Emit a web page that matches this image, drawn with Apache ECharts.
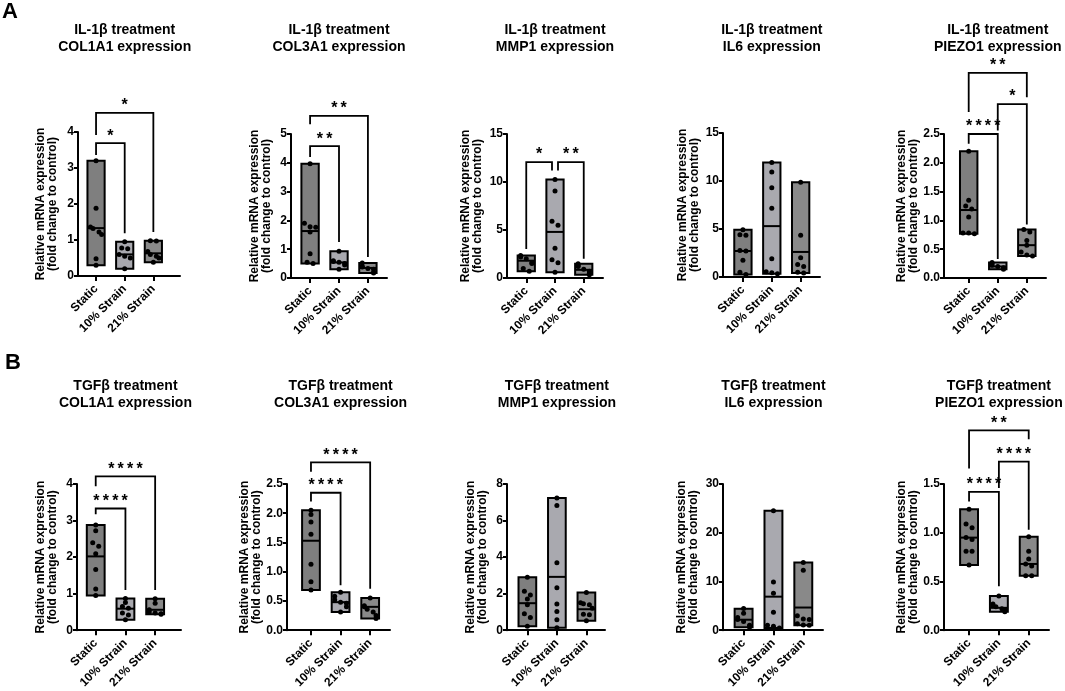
<!DOCTYPE html>
<html>
<head>
<meta charset="utf-8">
<script src="https://cdn.jsdelivr.net/npm/echarts@6/dist/echarts.min.js"></script>
<style>
  html, body { margin: 0; padding: 0; background: #fff; }
  #chart { width: 1065px; height: 691px; }
</style>
</head>
<body>
<div id="chart"></div>
<script>
const FONT = '"Liberation Sans", Arial, sans-serif';

// ---- data ----
const categories = ['Static', '10% Strain', '21% Strain'];
const treatments = ['IL-1β treatment', 'TGFβ treatment'];
const genes = ['COL1A1', 'COL3A1', 'MMP1', 'IL6', 'PIEZO1'];
const yMax = [4, 5, 15, 15, 2.5, 4, 2.5, 8, 30, 1.5];
const yStep = [1, 1, 5, 5, 0.5, 1, 0.5, 2, 10, 0.5];

// floating bars: min, max and median per group
const barMin = [
  [0.30, 0.20, 0.38], [0.50, 0.30, 0.17], [0.70, 0.60, 0.35], [0.25, 0.35, 0.42], [0.77, 0.15, 0.38],
  [0.95, 0.29, 0.44], [0.69, 0.31, 0.20], [0.22, 0.13, 0.52], [0.60, 0.47, 1.00], [0.67, 0.19, 0.56]
];
const barMax = [
  [3.20, 0.95, 0.98], [3.97, 0.93, 0.52], [2.35, 10.25, 1.48], [4.92, 11.92, 9.88], [2.20, 0.27, 0.84],
  [2.88, 0.87, 0.86], [2.05, 0.65, 0.55], [2.90, 7.24, 2.07], [4.40, 24.5, 13.9], [1.24, 0.35, 0.96]
];
const barMedian = [
  [1.33, 0.60, 0.63], [1.63, 0.54, 0.35], [1.80, 4.80, 0.85], [2.71, 5.30, 2.61], [1.18, 0.20, 0.57],
  [2.02, 0.59, 0.56], [1.53, 0.48, 0.40], [1.48, 2.92, 1.15], [2.16, 6.89, 4.66], [0.95, 0.23, 0.68]
];

// individual replicates
const dots = [
  [[3.2, 1.88, 1.36, 1.32, 1.22, 1.15, 0.48, 0.3], [0.95, 0.78, 0.76, 0.6, 0.55, 0.5, 0.2], [0.98, 0.97, 0.68, 0.6, 0.55, 0.5, 0.38]],
  [[3.97, 1.9, 1.78, 1.76, 1.6, 0.84, 0.55, 0.5], [0.93, 0.6, 0.57, 0.55, 0.5, 0.45, 0.3], [0.52, 0.4, 0.38, 0.33, 0.3, 0.2, 0.17]],
  [[2.35, 2.2, 2.0, 1.6, 1.5, 1.0, 0.7], [10.25, 9.05, 5.9, 5.5, 3.1, 1.9, 1.6, 0.6], [1.48, 1.3, 1.2, 0.9, 0.7, 0.5, 0.35]],
  [[4.92, 4.4, 4.35, 2.75, 2.7, 1.75, 0.5, 0.25], [11.92, 10.95, 9.3, 7.15, 1.9, 0.55, 0.45, 0.35], [9.88, 4.35, 2.0, 1.3, 1.1, 0.5, 0.42]],
  [[2.2, 1.35, 1.25, 1.2, 1.06, 0.78, 0.78, 0.77], [0.27, 0.25, 0.22, 0.2, 0.18, 0.17, 0.15], [0.84, 0.8, 0.65, 0.57, 0.45, 0.4, 0.38]],
  [[2.88, 2.72, 2.39, 2.3, 2.09, 1.66, 1.13, 0.95], [0.87, 0.76, 0.65, 0.6, 0.47, 0.42, 0.29], [0.86, 0.74, 0.56, 0.5, 0.47, 0.45, 0.44]],
  [[2.05, 1.98, 1.85, 1.64, 1.13, 0.83, 0.69], [0.65, 0.58, 0.52, 0.48, 0.46, 0.4, 0.31], [0.55, 0.42, 0.4, 0.36, 0.31, 0.25, 0.2]],
  [[2.9, 2.14, 1.93, 1.71, 1.39, 0.9, 0.7, 0.22], [7.24, 6.83, 3.69, 2.32, 1.44, 1.03, 0.58, 0.13], [2.07, 1.51, 1.45, 1.39, 1.2, 0.88, 0.85, 0.52]],
  [[4.45, 3.5, 2.6, 2.2, 1.8, 1.0, 0.6], [24.5, 9.9, 7.6, 3.7, 1.0, 0.8, 0.47], [13.9, 12.3, 2.97, 2.3, 2.2, 1.35, 1.1, 1.0]],
  [[1.24, 1.09, 1.05, 0.95, 0.93, 0.81, 0.81, 0.67], [0.35, 0.27, 0.25, 0.24, 0.22, 0.21, 0.19], [0.96, 0.81, 0.73, 0.68, 0.66, 0.56, 0.56]]
];

// significance brackets: [fromGroup, toGroup, level, leftLegEnd, rightLegEnd]
const brackets = [
  [[0, 1, 3.69, 3.36, 1.19], [0, 2, 4.53, 3.92, 1.22]],
  [[0, 1, 4.58, 4.2, 1.25], [0, 2, 5.63, 5.34, 0.73]],
  [[0, 1, 12.08, 3.03, 11.2], [1, 2, 12.08, 11.2, 2.0]],
  [],
  [[0, 1, 2.5, 2.33, 0.33], [1, 2, 3.02, 2.56, 0.93], [0, 2, 3.56, 2.88, 3.14]],
  [[0, 1, 3.33, 3.17, 1.1], [0, 2, 4.21, 3.94, 1.1]],
  [[0, 1, 2.35, 2.2, 0.77], [0, 2, 2.87, 2.71, 0.71]],
  [],
  [],
  [[0, 1, 1.42, 1.32, 0.45], [1, 2, 1.73, 1.46, 1.03], [0, 2, 2.05, 1.66, 1.96]]
];
const bracketStars = [
  ['*', '*'], ['**', '**'], ['*', '**'], [], ['****', '*', '**'],
  ['****', '****'], ['****', '****'], [], [], ['****', '****', '**']
];

// ---- layout: [left, top, width, height, xMin, xMax, nameGap] ----
const layout = [
  [78, 132, 102, 144, -0.63, 2.93, 19],
  [291, 134, 96, 144, -0.66, 2.66, 18],
  [507, 134, 96, 144, -0.67, 2.67, 23],
  [723, 133, 97, 144, -0.69, 2.67, 22],
  [944, 134, 102, 144, -0.85, 2.66, 22],
  [77, 484, 104, 148, -0.63, 2.87, 18],
  [287, 484, 103, 148, -0.81, 2.67, 23],
  [507, 484, 98, 148, -0.69, 2.63, 18],
  [723, 484, 100, 148, -0.69, 2.66, 23],
  [944, 484, 105, 148, -0.84, 2.68, 22]
];
const barColors = ['#7f7f7f', '#a9a9af', '#898989'];
const barWidth = 0.6;

function spreadDots(ys, cx, half) {
  const out = [];
  let group = [];
  const flush = () => {
    const n = group.length;
    group.forEach((y, i) => {
      let dx = (i - (n - 1) / 2) * 6;
      dx = Math.max(-half + 3, Math.min(half - 3, dx));
      out.push([cx + dx, y]);
    });
    group = [];
  };
  ys.slice().sort((a, b) => a - b).forEach(y => {
    if (group.length && y - group[group.length - 1] > 4) flush();
    group.push(y);
  });
  flush();
  return out;
}

function boxRenderer(p) {
  return function (params, api) {
    const c = api.value(0);
    const top = api.coord([c, api.value(2)]);
    const bot = api.coord([c, api.value(1)]);
    const med = api.coord([c, api.value(3)]);
    const half = api.size([barWidth, 0])[0] / 2;
    const children = [
      { type: 'rect', shape: { x: top[0] - half, y: top[1], width: half * 2, height: bot[1] - top[1] },
        style: { fill: barColors[c], stroke: '#000', lineWidth: 2 } },
      { type: 'line', shape: { x1: top[0] - half, y1: med[1], x2: top[0] + half, y2: med[1] },
        style: { stroke: '#000', lineWidth: 2 } }
    ];
    const ys = dots[p][c].map(v => api.coord([c, v])[1]);
    spreadDots(ys, top[0], half).forEach(pt => {
      children.push({ type: 'circle', shape: { cx: pt[0], cy: pt[1], r: 2.5 }, style: { fill: '#000' } });
    });
    return { type: 'group', children };
  };
}

function bracketRenderer(p) {
  return function (params, api) {
    const list = brackets[p];
    const b = list[params.dataIndex];
    let insetL = 0, insetR = 0;
    list.forEach((o, j) => {
      if (j === params.dataIndex || o[2] !== b[2]) return;
      if (o[0] === b[1]) insetR = 3;
      if (o[1] === b[0]) insetL = 3;
    });
    const xa = api.coord([b[0], b[2]])[0] + insetL;
    const xb = api.coord([b[1], b[2]])[0] - insetR;
    const yTop = api.coord([b[0], b[2]])[1];
    const yL = api.coord([b[0], b[3]])[1];
    const yR = api.coord([b[1], b[4]])[1];
    return {
      type: 'group',
      children: [
        { type: 'polyline', shape: { points: [[xa, yL], [xa, yTop], [xb, yTop], [xb, yR]] },
          style: { stroke: '#000', lineWidth: 1.8, fill: null } },
        { type: 'text', style: {
            text: bracketStars[p][params.dataIndex].split('').join('\u2009'),
            x: (xa + xb) / 2, y: yTop - 7,
            align: 'center', verticalAlign: 'middle', textAlign: 'center', textVerticalAlign: 'middle',
            font: 'bold 16px ' + FONT, fill: '#000' } }
      ]
    };
  };
}

const grids = [], xAxes = [], yAxes = [], series = [], graphics = [];
layout.forEach((l, p) => {
  const [left, top, width, height, xMin, xMax, gap] = l;
  grids.push({ left, top, width, height });
  xAxes.push({
    gridIndex: p, type: 'value', min: xMin, max: xMax,
    axisLine: { show: true, onZero: false, lineStyle: { color: '#000', width: 2 } },
    axisTick: { show: true, customValues: [0, 1, 2], length: 5, lineStyle: { color: '#000', width: 2 } },
    axisLabel: { customValues: [0, 1, 2], rotate: 45, margin: 11, color: '#000', fontWeight: 'bold',
      fontSize: 12, fontFamily: FONT, formatter: v => categories[Math.round(v)] },
    splitLine: { show: false }
  });
  yAxes.push({
    gridIndex: p, type: 'value', min: 0, max: yMax[p], interval: yStep[p],
    name: 'Relative mRNA expression\n(fold change to control)',
    nameLocation: 'middle', nameGap: gap,
    nameTextStyle: { color: '#000', fontWeight: 'bold', fontSize: 12, lineHeight: 12, fontFamily: FONT },
    axisLine: { show: true, onZero: false, lineStyle: { color: '#000', width: 2 } },
    axisTick: { show: true, length: 4, lineStyle: { color: '#000', width: 2 } },
    axisLabel: { color: '#000', fontWeight: 'bold', fontSize: 12, fontFamily: FONT, margin: 4,
      formatter: v => (yStep[p] < 1 ? v.toFixed(1) : String(v)) },
    splitLine: { show: false }
  });
  series.push({
    type: 'custom', xAxisIndex: p, yAxisIndex: p, clip: false,
    data: categories.map((c, i) => [i, barMin[p][i], barMax[p][i], barMedian[p][i]]),
    renderItem: boxRenderer(p)
  });
  if (brackets[p].length) {
    series.push({
      type: 'custom', xAxisIndex: p, yAxisIndex: p, clip: false, z: 3,
      data: brackets[p].map(b => [b[0], b[2]]),
      renderItem: bracketRenderer(p)
    });
  }
  const cx = left + (1 - xMin) / (xMax - xMin) * width;
  const row = Math.floor(p / 5);
  graphics.push({
    type: 'text', x: cx, y: row === 0 ? 38.5 : 395,
    style: { text: treatments[row] + '\n' + genes[p % 5] + ' expression', font: 'bold 14px ' + FONT,
      lineHeight: 17, fill: '#000', align: 'center', verticalAlign: 'middle',
      textAlign: 'center', textVerticalAlign: 'middle' }
  });
});
graphics.push({ type: 'text', x: 2, y: 1, style: { text: 'A', font: 'bold 22px ' + FONT, fill: '#000' } });
graphics.push({ type: 'text', x: 5, y: 352, style: { text: 'B', font: 'bold 22px ' + FONT, fill: '#000' } });

const chart = echarts.init(document.getElementById('chart'));
chart.setOption({
  animation: false,
  backgroundColor: '#fff',
  grid: grids,
  xAxis: xAxes,
  yAxis: yAxes,
  series,
  graphic: graphics
});
</script>
</body>
</html>
